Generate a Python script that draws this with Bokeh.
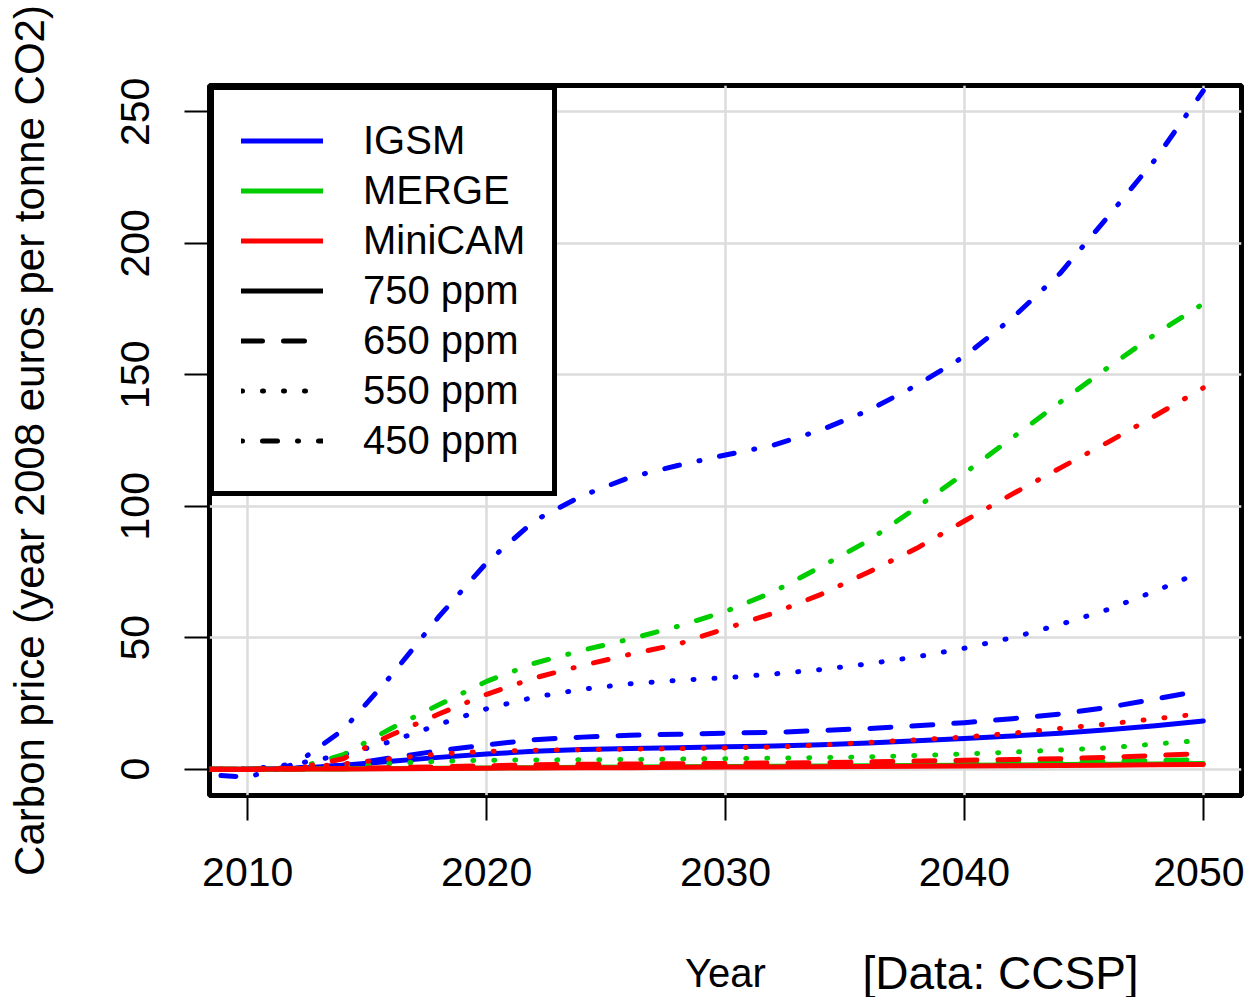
import math
from bokeh.plotting import figure
from bokeh.layouts import column
from bokeh.models import Range1d, FixedTicker, Legend, LegendItem, Label
from bokeh.embed import file_html
from bokeh.resources import INLINE

# ---------------- data ----------------
years = [2008, 2010, 2012, 2014, 2016, 2018, 2020, 2022, 2024, 2026, 2028,
         2030, 2032, 2034, 2036, 2038, 2040, 2042, 2044, 2046, 2048, 2050]

igsm_750 = [0, 0, 0.3, 1.5, 3, 4.5, 5.8, 6.8, 7.5, 7.9, 8.2, 8.5, 8.8, 9.3, 10, 10.8, 11.7, 12.6, 13.7, 15, 16.5, 18.3]
igsm_650 = [0, 0, 0.5, 1.5, 4.3, 7, 9.3, 11.2, 12.2, 12.9, 13.3, 13.7, 14, 14.7, 15.5, 16.5, 17.7, 19.2, 21, 23.5, 26.7, 30]
igsm_550 = [0, 0, 2, 5.5, 10.5, 17, 23, 27.4, 30.4, 32.5, 33.8, 34.8, 36.2, 37.9, 40.1, 42.7, 46, 50, 55, 60.7, 67.8, 75.3]
igsm_450 = [-2, -3, 2, 15, 35.5, 58, 78.5, 94.5, 104, 111, 115.5, 119.5, 123.2, 129, 136.5, 146, 157, 171.5, 188.5, 210, 232, 258]

merge_750 = [0, 0, 0.1, 0.2, 0.3, 0.4, 0.5, 0.6, 0.7, 0.8, 0.9, 1.0, 1.1, 1.2, 1.3, 1.4, 1.5, 1.6, 1.8, 1.9, 2.0, 2.2]
merge_650 = [0, 0, 0.1, 0.2, 0.4, 0.6, 0.8, 0.95, 1.1, 1.2, 1.35, 1.5, 1.6, 1.7, 1.85, 2.05, 2.3, 2.45, 2.7, 3.0, 3.3, 3.6]
merge_550 = [0, 0, 0.2, 1, 2.2, 3, 3.4, 3.5, 3.6, 3.7, 3.85, 4, 4.2, 4.4, 4.7, 5.2, 5.8, 6.5, 7.3, 8.1, 9.6, 11]
merge_450 = [0, 0, 0.3, 5.5, 15.5, 24.5, 33.4, 40.3, 45.2, 49.5, 54.3, 60, 67.4, 77, 87, 99.5, 112.5, 126, 139.5, 152.7, 165.5, 177]

minicam_750 = [0, 0, 0.05, 0.1, 0.2, 0.3, 0.4, 0.5, 0.55, 0.6, 0.7, 0.8, 0.85, 0.9, 1.0, 1.1, 1.2, 1.3, 1.4, 1.55, 1.65, 1.8]
minicam_650 = [0, 0, 0.1, 0.3, 0.6, 0.9, 1.3, 1.7, 1.85, 2, 2.1, 2.2, 2.35, 2.5, 2.8, 3.1, 3.4, 3.7, 4, 4.5, 5.2, 6]
minicam_550 = [0, 0, 0.5, 2, 4, 5.8, 6.8, 7.2, 7.4, 7.6, 7.8, 8.1, 8.4, 9.2, 10.2, 11.2, 12.2, 13.7, 15.5, 17.2, 19.2, 21.2]
minicam_450 = [0, 0, 0.3, 4, 13, 21, 28.5, 34.7, 39.4, 43.7, 47.5, 53.5, 59.3, 66.5, 75, 84, 94.4, 104.6, 114.5, 124.3, 134.5, 145]

models = ["IGSM", "MERGE", "MiniCAM"]
model_colors = ["#0000ff", "#00cd00", "#ff0000"]
scenarios = ["750 ppm", "650 ppm", "550 ppm", "450 ppm"]
scenario_dashes = ["solid", "21 21", "1 20", "1 20 15 20"]
series = {
    "IGSM": [igsm_750, igsm_650, igsm_550, igsm_450],
    "MERGE": [merge_750, merge_650, merge_550, merge_450],
    "MiniCAM": [minicam_750, minicam_650, minicam_550, minicam_450],
}

x_ticks = [2010, 2020, 2030, 2040, 2050]
y_ticks = [0, 50, 100, 150, 200, 250]
x_title = "Year"
y_title = "Carbon price (year 2008 euros per tonne CO2)"
source_note = "[Data: CCSP]"

FONT = "Liberation Sans"
LW = 5
W = 1244

p = figure(width=W, height=940,
           x_range=Range1d(2008.4, 2051.6), y_range=Range1d(-10, 260),
           output_backend="svg", toolbar_location=None,
           min_border_left=209, min_border_right=3,
           min_border_top=85, min_border_bottom=145)

p.background_fill_color = "white"
p.border_fill_color = "white"
p.outline_line_color = "black"
p.outline_line_width = 5
p.outline_line_alpha = 1

for g in (p.xgrid[0], p.ygrid[0]):
    g.grid_line_color = "#dcdcdc"
    g.grid_line_width = 2.5
p.xgrid[0].ticker = FixedTicker(ticks=x_ticks)
p.ygrid[0].ticker = FixedTicker(ticks=y_ticks)

# ---- data lines ----
for m, col in zip(models, model_colors):
    for vals, dash in zip(series[m], scenario_dashes):
        p.line(years, vals, line_color=col, line_width=LW, line_dash=dash,
               line_cap="round", line_join="round")

# ---- axes ----
for ax in (p.xaxis[0], p.yaxis[0]):
    ax.axis_line_color = None
    ax.major_tick_in = 0
    ax.major_tick_out = 25
    ax.major_tick_line_color = "black"
    ax.major_tick_line_width = 2
    ax.minor_tick_line_color = None
    ax.major_label_text_font = FONT
    ax.major_label_text_font_size = "41px"
    ax.major_label_text_color = "black"
    ax.axis_label_text_font = FONT
    ax.axis_label_text_font_style = "normal"
    ax.axis_label_text_color = "black"

p.xaxis[0].ticker = FixedTicker(ticks=x_ticks)
p.yaxis[0].ticker = FixedTicker(ticks=y_ticks)
p.xaxis[0].major_label_standoff = 37

p.yaxis[0].major_label_orientation = "vertical"
p.yaxis[0].major_label_standoff = 35
p.yaxis[0].axis_label = y_title
p.yaxis[0].axis_label_text_font_size = "42px"
p.yaxis[0].axis_label_standoff = 66

# ---- legend (proxy renderers without visible data) ----
nan2 = [math.nan, math.nan]
items = []
for m, col in zip(models, model_colors):
    r = p.line(nan2, nan2, line_color=col, line_width=LW, line_cap="round")
    items.append(LegendItem(label=m, renderers=[r]))
for s, dash in zip(scenarios, scenario_dashes):
    r = p.line(nan2, nan2, line_color="black", line_width=LW, line_dash=dash, line_cap="round")
    items.append(LegendItem(label=s, renderers=[r]))

legend = Legend(items=items, location="top_left", margin=0, padding=27, spacing=3,
                glyph_width=82, glyph_height=47, label_height=47, label_standoff=40,
                label_text_font=FONT, label_text_font_size="40px",
                label_text_color="black", label_text_baseline="middle",
                border_line_color="black", border_line_width=5, border_line_alpha=1,
                background_fill_color="white", background_fill_alpha=1)
p.add_layout(legend)

# ---- bottom strip with the x title and the source note ----
p2 = figure(width=W, height=57, x_range=Range1d(0, 1), y_range=Range1d(0, 1),
            x_axis_type=None, y_axis_type=None,
            output_backend="svg", toolbar_location=None, min_border=0)
p2.outline_line_color = None
p2.grid.visible = False
p2.border_fill_color = "white"
p2.background_fill_color = "white"
p2.add_layout(Label(x=725, y=32, x_units="canvas", y_units="canvas",
                    text=x_title, text_font=FONT, text_font_size="40px",
                    text_color="black", text_align="center", text_baseline="alphabetic"))
p2.add_layout(Label(x=862, y=32, x_units="canvas", y_units="canvas",
                    text=source_note, text_font=FONT, text_font_size="46px",
                    text_color="black", text_align="left", text_baseline="alphabetic"))

layout = column(p, p2, spacing=0)
open("out.html", "w").write(file_html(layout, INLINE))
